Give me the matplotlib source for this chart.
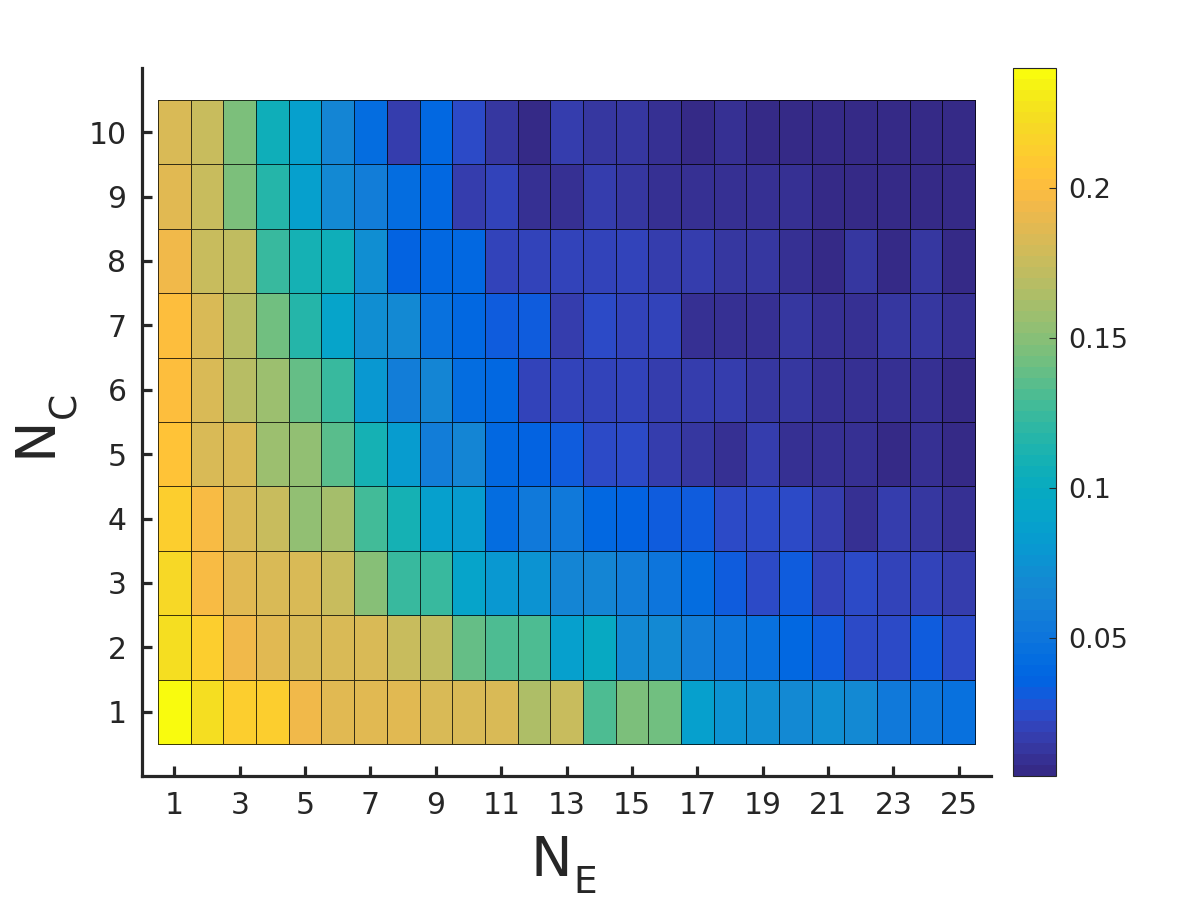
import numpy as np
import matplotlib
matplotlib.use("Agg")
import matplotlib.pyplot as plt
from matplotlib.colors import ListedColormap

# ---- data: one list per N_C row (index = N_E 1..25) ----
n_e = list(range(1, 26))
n_c = list(range(1, 11))

nc1  = [0.240, 0.223, 0.214, 0.213, 0.194, 0.188, 0.188, 0.187, 0.181, 0.184, 0.181, 0.165, 0.176,
        0.130, 0.146, 0.143, 0.087, 0.076, 0.071, 0.068, 0.073, 0.070, 0.054, 0.051, 0.047]
nc2  = [0.223, 0.214, 0.194, 0.188, 0.183, 0.181, 0.181, 0.176, 0.172, 0.138, 0.132, 0.132, 0.087,
        0.098, 0.070, 0.070, 0.058, 0.049, 0.047, 0.040, 0.030, 0.025, 0.025, 0.030, 0.025]
nc3  = [0.218, 0.197, 0.188, 0.184, 0.181, 0.174, 0.148, 0.122, 0.122, 0.091, 0.080, 0.076, 0.063,
        0.063, 0.056, 0.049, 0.042, 0.033, 0.025, 0.033, 0.020, 0.025, 0.020, 0.021, 0.016]
nc4  = [0.212, 0.197, 0.181, 0.176, 0.153, 0.160, 0.127, 0.108, 0.087, 0.082, 0.044, 0.054, 0.053,
        0.040, 0.035, 0.030, 0.030, 0.025, 0.025, 0.025, 0.018, 0.009, 0.018, 0.013, 0.011]
nc5  = [0.205, 0.184, 0.181, 0.157, 0.152, 0.136, 0.108, 0.082, 0.057, 0.065, 0.038, 0.035, 0.033,
        0.025, 0.025, 0.017, 0.013, 0.009, 0.016, 0.009, 0.009, 0.009, 0.004, 0.010, 0.005]
nc6  = [0.202, 0.181, 0.167, 0.156, 0.138, 0.122, 0.080, 0.057, 0.063, 0.042, 0.040, 0.022, 0.022,
        0.022, 0.020, 0.018, 0.017, 0.017, 0.013, 0.013, 0.011, 0.011, 0.011, 0.011, 0.005]
nc7  = [0.202, 0.184, 0.167, 0.141, 0.117, 0.092, 0.073, 0.070, 0.047, 0.040, 0.030, 0.032, 0.018,
        0.023, 0.020, 0.020, 0.009, 0.009, 0.010, 0.013, 0.011, 0.011, 0.012, 0.012, 0.008]
nc8  = [0.194, 0.174, 0.170, 0.122, 0.110, 0.104, 0.073, 0.035, 0.040, 0.038, 0.022, 0.022, 0.022,
        0.022, 0.020, 0.016, 0.016, 0.012, 0.012, 0.011, 0.007, 0.012, 0.005, 0.012, 0.007]
nc9  = [0.188, 0.177, 0.147, 0.117, 0.088, 0.069, 0.059, 0.043, 0.040, 0.018, 0.022, 0.011, 0.011,
        0.016, 0.014, 0.011, 0.011, 0.010, 0.010, 0.010, 0.006, 0.006, 0.006, 0.005, 0.005]
nc10 = [0.183, 0.174, 0.147, 0.106, 0.086, 0.064, 0.042, 0.018, 0.040, 0.025, 0.015, 0.007, 0.016,
        0.012, 0.013, 0.011, 0.005, 0.008, 0.005, 0.006, 0.006, 0.006, 0.006, 0.006, 0.006]

x_ticks = [1, 3, 5, 7, 9, 11, 13, 15, 17, 19, 21, 23, 25]
y_ticks = [1, 2, 3, 4, 5, 6, 7, 8, 9, 10]
cbar_ticks = [0.05, 0.1, 0.15, 0.2]
cbar_labels = ["0.05", "0.1", "0.15", "0.2"]

# ---- MATLAB parula (64 levels) ----
parula = [
[0.2081,0.1663,0.5292],[0.2116,0.1898,0.5777],[0.2123,0.2138,0.6270],[0.2081,0.2386,0.6771],
[0.1959,0.2645,0.7279],[0.1707,0.2919,0.7792],[0.1253,0.3242,0.8303],[0.0591,0.3598,0.8683],
[0.0117,0.3875,0.8820],[0.0060,0.4086,0.8828],[0.0165,0.4266,0.8786],[0.0329,0.4430,0.8720],
[0.0498,0.4586,0.8641],[0.0629,0.4737,0.8554],[0.0723,0.4887,0.8467],[0.0779,0.5040,0.8384],
[0.0793,0.5200,0.8312],[0.0749,0.5375,0.8263],[0.0641,0.5570,0.8240],[0.0488,0.5772,0.8228],
[0.0343,0.5966,0.8199],[0.0265,0.6137,0.8135],[0.0239,0.6287,0.8038],[0.0231,0.6418,0.7913],
[0.0228,0.6535,0.7768],[0.0267,0.6642,0.7607],[0.0384,0.6743,0.7436],[0.0590,0.6838,0.7254],
[0.0843,0.6928,0.7062],[0.1133,0.7015,0.6859],[0.1453,0.7098,0.6646],[0.1801,0.7177,0.6424],
[0.2178,0.7250,0.6193],[0.2586,0.7317,0.5954],[0.3022,0.7376,0.5712],[0.3482,0.7424,0.5473],
[0.3953,0.7459,0.5244],[0.4420,0.7481,0.5033],[0.4871,0.7491,0.4840],[0.5300,0.7491,0.4661],
[0.5709,0.7485,0.4494],[0.6099,0.7473,0.4337],[0.6473,0.7456,0.4188],[0.6834,0.7435,0.4044],
[0.7184,0.7411,0.3905],[0.7525,0.7384,0.3768],[0.7858,0.7356,0.3633],[0.8185,0.7327,0.3498],
[0.8507,0.7299,0.3360],[0.8824,0.7274,0.3217],[0.9139,0.7258,0.3063],[0.9450,0.7261,0.2886],
[0.9739,0.7314,0.2666],[0.9938,0.7455,0.2403],[0.9990,0.7653,0.2164],[0.9955,0.7861,0.1967],
[0.9880,0.8066,0.1794],[0.9789,0.8271,0.1633],[0.9697,0.8481,0.1475],[0.9626,0.8705,0.1309],
[0.9589,0.8949,0.1132],[0.9598,0.9218,0.0948],[0.9661,0.9514,0.0755],[0.9763,0.9831,0.0538]]
cmap = ListedColormap(parula)

Z = np.array([nc1, nc2, nc3, nc4, nc5, nc6, nc7, nc8, nc9, nc10])

txt = "#262626"
plt.rcParams["font.family"] = ["DejaVu Sans"]
W, H = 1200, 900
fig = plt.figure(figsize=(12, 9), dpi=100)
ax = fig.add_axes([0.1181, 0.1376, 0.7081, 0.7871])

xe = np.arange(0.5, len(n_e) + 1, 1.0)
ye = np.arange(0.5, len(n_c) + 1, 1.0)
mesh = ax.pcolormesh(xe, ye, Z, cmap=cmap, edgecolors=(0, 0, 0, 0.75), linewidth=0.7)

ax.set_xlim(0, 26)
ax.set_ylim(0, 11)
ax.set_xticks(x_ticks)
ax.set_yticks(y_ticks)
for s in ["top", "right"]:
    ax.spines[s].set_visible(False)
for s in ["left", "bottom"]:
    ax.spines[s].set_linewidth(2.3)
    ax.spines[s].set_color(txt)
ax.tick_params(direction="in", length=7, width=2.3, color=txt, labelcolor=txt,
               labelsize=21.5, pad=11)

# axis labels: N with a deep subscript (MATLAB style)
def px(x, y):
    return x / W, 1 - y / H

fig.text(*px(531, 876), "N", fontsize=40, color=txt, ha="left", va="baseline")
fig.text(*px(573, 893), "E", fontsize=27, color=txt, ha="left", va="baseline")
fig.text(*px(50, 457), "N", fontsize=40, color=txt, ha="left", va="baseline",
         rotation=90, rotation_mode="anchor")
fig.text(*px(75, 418), "C", fontsize=27, color=txt, ha="left", va="baseline",
         rotation=90, rotation_mode="anchor")

cax = fig.add_axes([0.8442, 0.1378, 0.0358, 0.7867])
cb = fig.colorbar(mesh, cax=cax)
cb.set_ticks(cbar_ticks)
cb.set_ticklabels(cbar_labels)
cb.outline.set_linewidth(0.8)
cb.outline.set_edgecolor(txt)
cax.tick_params(direction="in", length=5, width=0.8, color=txt, labelcolor=txt,
                labelsize=19.5, pad=9)

fig.savefig("out.png", dpi=100)
